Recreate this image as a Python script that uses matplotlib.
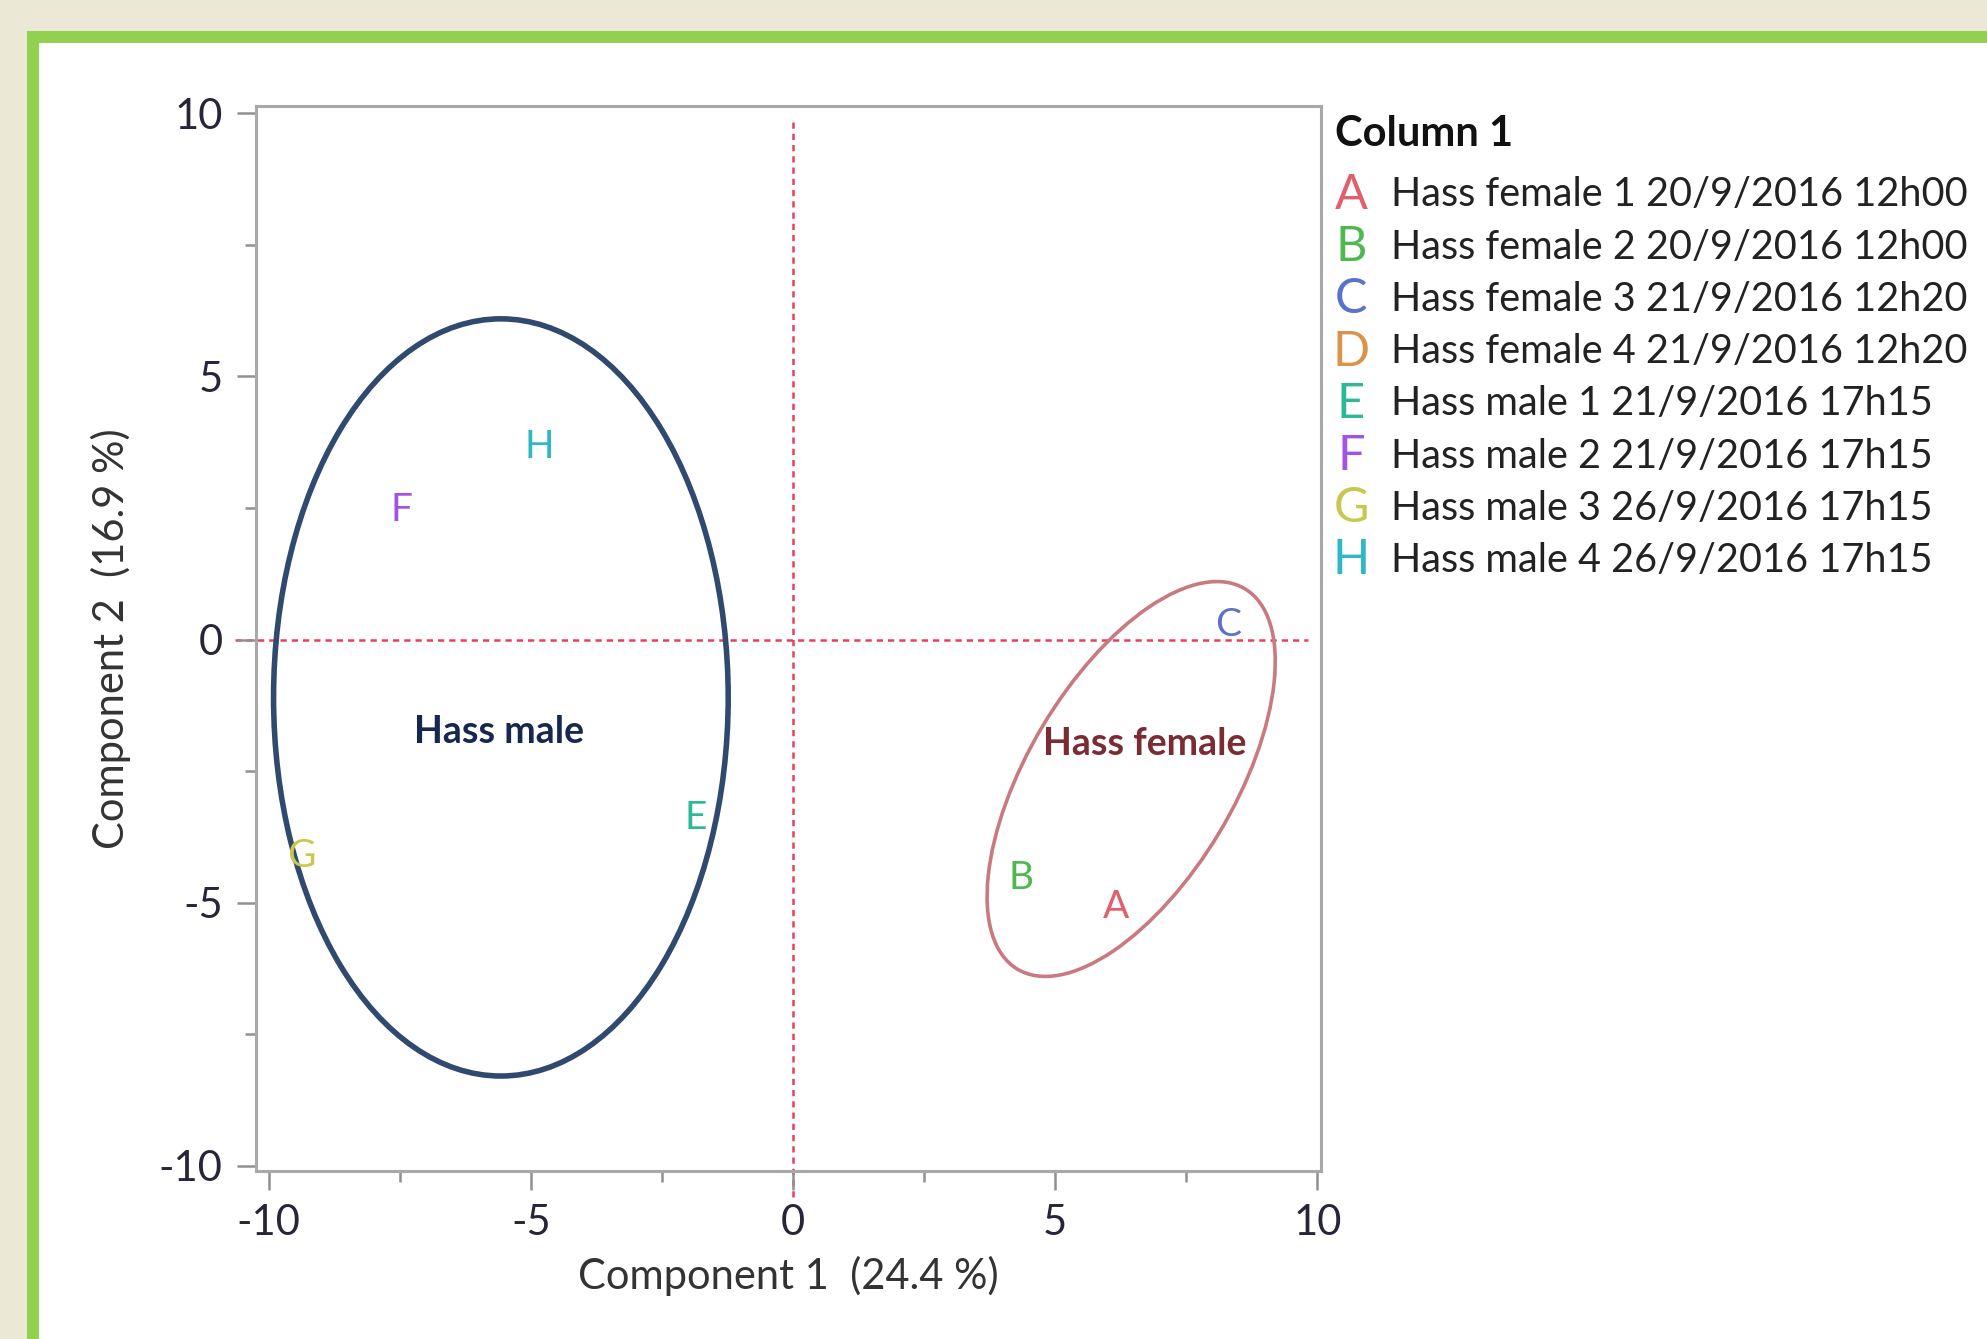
import matplotlib.pyplot as plt
from matplotlib.patches import Ellipse, Rectangle

plt.rcParams['font.family'] = ['Lato', 'DejaVu Sans']

# Scores (Component 1, Component 2); D is not visible in the plot
letters = ['A', 'B', 'C', 'D', 'E', 'F', 'G', 'H']
names = ['Hass female 1 20/9/2016 12h00', 'Hass female 2 20/9/2016 12h00',
         'Hass female 3 21/9/2016 12h20', 'Hass female 4 21/9/2016 12h20',
         'Hass male 1 21/9/2016 17h15', 'Hass male 2 21/9/2016 17h15',
         'Hass male 3 26/9/2016 17h15', 'Hass male 4 26/9/2016 17h15']
comp1 = [6.16, 4.35, 8.29, None, -1.86, -7.46, -9.37, -4.83]
comp2 = [-5.08, -4.53, 0.27, None, -3.40, 2.46, -4.12, 3.66]
colors = ['#e0606e', '#50b850', '#5a72c8', '#d8944a', '#2fb894', '#a452e0', '#c8c850', '#2eb8c6']
ticks = [-10, -5, 0, 5, 10]
tick_labels = ['-10', '-5', '0', '5', '10']

# group ellipses: center x, center y, width, height, angle
male_ell = (-5.57, -1.10, 8.67, 14.39, 0)
female_ell = (6.45, -2.65, 8.43, 3.93, 59)

fig = plt.figure(figsize=(19.87, 13.39), dpi=100)
fig.patch.set_facecolor('#ebe8d5')

# white panel with green frame
fig.add_artist(Rectangle((33 / 1987, -0.05), 1.1, 1 - 37 / 1339 + 0.05,
                         transform=fig.transFigure, facecolor='white',
                         edgecolor='#92d050', linewidth=8.6, clip_on=False, zorder=0))

ax = fig.add_axes([256 / 1987, 1 - 1171 / 1339, (1321 - 256) / 1987, (1171 - 106) / 1339])
ax.set_xlim(-10.24, 10.07)
ax.set_ylim(-10.1, 10.14)

for sp in ax.spines.values():
    sp.set_color('#a8a8a8')
    sp.set_linewidth(2.2)

ax.set_xticks(ticks)
ax.set_yticks(ticks)
ax.set_xticks([-7.5, -2.5, 2.5, 7.5], minor=True)
ax.set_yticks([-7.5, -2.5, 2.5, 7.5], minor=True)
ax.set_xticklabels(tick_labels)
ax.set_yticklabels(tick_labels)
ax.tick_params(which='major', length=14, width=1.8, color='#909090', labelsize=30,
               labelcolor='#2a2438', pad=10)
ax.tick_params(which='minor', length=8, width=1.8, color='#909090')

ax.set_xlabel('Component 1  (24.4 %)', fontsize=30, color='#333333', labelpad=10)
ax.set_ylabel('Component 2  (16.9 %)', fontsize=30, color='#333333', labelpad=20)

# reference lines at zero
ax.plot([-10.65, 9.83], [0, 0], color='#e8405a', lw=1.8, ls=(0, (2.5, 2)), clip_on=False, zorder=1)
ax.plot([0, 0], [-10.6, 9.86], color='#e8405a', lw=1.8, ls=(0, (2.5, 2)), clip_on=False, zorder=1)

# ellipses
cx, cy, w, h, a = male_ell
ax.add_patch(Ellipse((cx, cy), w, h, angle=a, fill=False, edgecolor='#2f4a6e', lw=4, zorder=2))
cx, cy, w, h, a = female_ell
ax.add_patch(Ellipse((cx, cy), w, h, angle=a, fill=False, edgecolor='#c87a80', lw=2.6, zorder=2))

ax.text(-5.6, -1.76, 'Hass male', fontsize=27, fontweight='bold', color='#172850',
        ha='center', va='center', zorder=3)
ax.text(6.71, -1.98, 'Hass female', fontsize=27, fontweight='bold', color='#7a2c34',
        ha='center', va='center', zorder=3)

# letter markers
for lab, x, y, c in zip(letters, comp1, comp2, colors):
    if x is None:
        continue
    ax.text(x, y, lab, fontsize=28, color=c, ha='center', va='center', zorder=4)

# legend
fig.text(1335 / 1987, 1 - 134 / 1339, 'Column 1', fontsize=30, fontweight='bold',
         color='#111111', ha='left', va='center')
for i, (lab, name, c) in enumerate(zip(letters, names, colors)):
    yy = 1 - (195 + 52.2 * i) / 1339
    fig.text(1351 / 1987, yy, lab, fontsize=35, color=c, ha='center', va='center')
    fig.text(1391 / 1987, yy, name, fontsize=28.5, color='#222222', ha='left', va='center')

fig.savefig('out.png', dpi=100, facecolor=fig.get_facecolor())
